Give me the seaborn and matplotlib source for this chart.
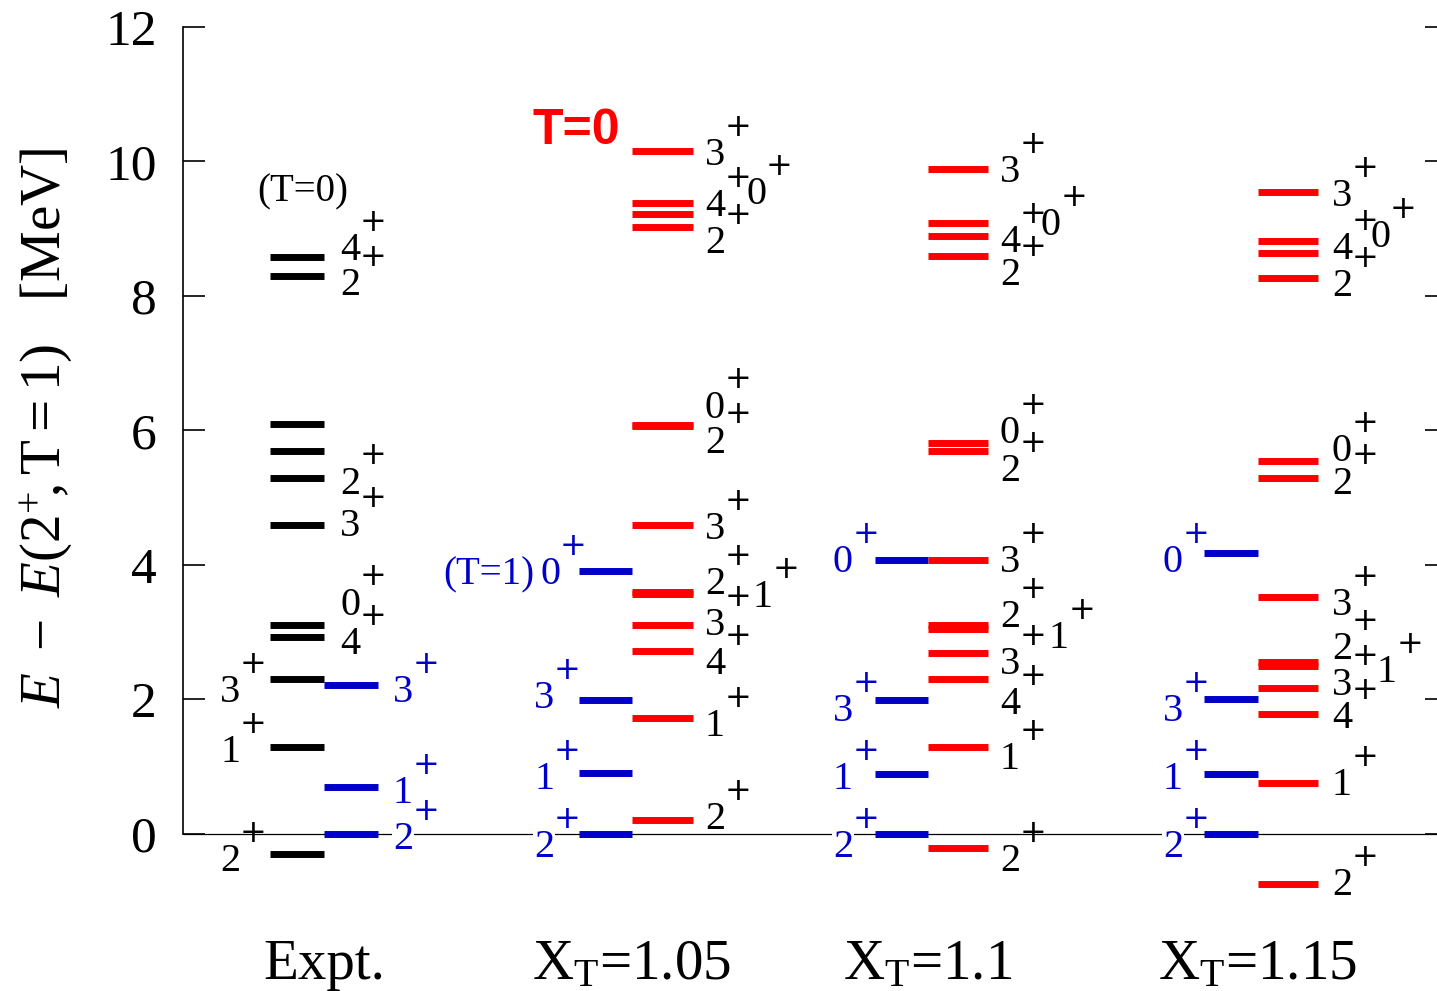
import numpy as np
import pandas as pd
import matplotlib
matplotlib.use("Agg")
import matplotlib.pyplot as plt
import seaborn as sns

# ---------------- data ----------------
categories = ["Expt.", r"X$_{\mathrm{T}}$=1.05", r"X$_{\mathrm{T}}$=1.1", r"X$_{\mathrm{T}}$=1.15"]

# experimental levels (MeV, relative to 2+ T=1)
expt_T0_E = [8.58, 8.29, 6.09, 5.70, 5.29, 4.60, 3.11, 2.93, 2.30, 1.29, -0.30]
expt_T1_E = [2.21, 0.70, 0.00]

# X_T = 1.05
x105_T1_E = [3.91, 1.99, 0.91, 0.00]
x105_T0_E = [10.16, 9.38, 9.22, 9.02, 6.08, 6.06, 4.60, 3.60, 3.56, 3.11, 2.72, 1.73, 0.21]

# X_T = 1.1
x110_T1_E = [4.08, 1.99, 0.89, 0.00]
x110_T0_E = [9.89, 9.09, 8.89, 8.59, 5.81, 5.70, 4.08, 3.11, 3.05, 2.69, 2.30, 1.29, -0.21]

# X_T = 1.15
x115_T1_E = [4.18, 2.01, 0.89, 0.00]
x115_T0_E = [9.54, 8.82, 8.64, 8.27, 5.54, 5.29, 3.52, 2.56, 2.50, 2.17, 1.78, 0.76, -0.75]

yticks = [0, 2, 4, 6, 8, 10, 12]

# ---------------- layout ----------------
def px(p):
    return (p - 183) / 100.0

col_centers = [px(324), px(632), px(928), px(1258)]

# (energies, x-start, x-end, kind)
series = [
    (expt_T0_E, px(270), px(324), "expt"),
    (expt_T1_E, px(324), px(378), "T1"),
    (x105_T1_E, px(579), px(632), "T1"),
    (x105_T0_E, px(632), px(693), "T0"),
    (x110_T1_E, px(875), px(928), "T1"),
    (x110_T0_E, px(928), px(988), "T0"),
    (x115_T1_E, px(1204), px(1258), "T1"),
    (x115_T0_E, px(1258), px(1318), "T0"),
]

BLUE = "#0000C8"
RED = "#FF0000"
palette = {"expt": "black", "T1": BLUE, "T0": RED}

# spin labels: (J, x-center of digit in px, y-center in MeV)
lab_black = [
    # Expt (right of bars)
    ("4", 350, 8.74), ("2", 350, 8.22), ("2", 350, 5.27), ("3", 350, 4.64),
    ("0", 350, 3.47), ("4", 350, 2.88),
    # Expt (left of bars)
    ("3", 230, 2.17), ("1", 230, 1.27), ("2", 230, -0.35),
    # X_T=1.05
    ("3", 715, 10.16), ("4", 715, 9.39), ("0", 756, 9.58), ("2", 715, 8.84),
    ("0", 715, 6.40), ("2", 715, 5.88), ("3", 715, 4.59), ("2", 715, 3.77),
    ("1", 763, 3.58), ("3", 715, 3.17), ("4", 715, 2.58), ("1", 715, 1.66),
    ("2", 715, 0.28),
    # X_T=1.1
    ("3", 1010, 9.90), ("4", 1010, 8.86), ("0", 1051, 9.11), ("2", 1010, 8.37),
    ("0", 1010, 6.02), ("2", 1010, 5.46), ("3", 1010, 4.10), ("2", 1010, 3.28),
    ("1", 1059, 2.97), ("3", 1010, 2.58), ("4", 1010, 1.99), ("1", 1010, 1.17),
    ("2", 1010, -0.35),
    # X_T=1.15
    ("3", 1342, 9.54), ("4", 1342, 8.76), ("0", 1380, 8.94), ("2", 1342, 8.21),
    ("0", 1342, 5.75), ("2", 1342, 5.27), ("3", 1342, 3.46), ("2", 1342, 2.81),
    ("1", 1387, 2.47), ("3", 1342, 2.28), ("4", 1342, 1.78), ("1", 1342, 0.78),
    ("2", 1342, -0.70),
]
lab_blue = [
    ("3", 403, 2.17), ("1", 403, 0.66), ("2", 403, -0.02),
    ("0", 550, 3.92), ("3", 544, 2.08), ("1", 544, 0.87), ("2", 544, -0.14),
    ("0", 843, 4.10), ("3", 843, 1.89), ("1", 843, 0.87), ("2", 843, -0.14),
    ("0", 1173, 4.10), ("3", 1173, 1.89), ("1", 1173, 0.87), ("2", 1173, -0.14),
]

# ---------------- build long table ----------------
rows = []
lid = 0
for energies, x0, x1, kind in series:
    for e in energies:
        rows.append({"x": x0, "E": e, "id": lid, "kind": kind})
        rows.append({"x": x1, "E": e, "id": lid, "kind": kind})
        lid += 1
df = pd.DataFrame(rows)

# ---------------- style ----------------
sns.set_theme(style="white")
plt.rcParams["font.family"] = ["Liberation Serif", "DejaVu Serif"]
plt.rcParams["mathtext.fontset"] = "custom"
plt.rcParams["mathtext.rm"] = "Liberation Serif"
plt.rcParams["mathtext.it"] = "Liberation Serif:italic"
plt.rcParams["mathtext.bf"] = "Liberation Serif:bold"
plt.rcParams["lines.solid_capstyle"] = "butt"

W, H = 1437, 991
fig = plt.figure(figsize=(W / 100, H / 100), dpi=100)
ax = fig.add_axes([183 / W, 1 - 928 / H, 1264 / W, 901 / H])

ax.axhline(0, color="black", lw=0.9, zorder=0.5)

sns.lineplot(data=df, x="x", y="E", units="id", estimator=None, hue="kind",
             palette=palette, sort=False, legend=False, linewidth=5.0, ax=ax,
             zorder=2)

ax.set_xlim(0, 12.64)
ax.set_ylim(-1.4, 12)

# spines / ticks
for s in ["top", "right", "bottom"]:
    ax.spines[s].set_visible(False)
ax.spines["left"].set_bounds(0, 12)
ax.spines["left"].set_color("black")
ax.spines["left"].set_linewidth(1.2)

ax.set_yticks(yticks)
ax.set_yticklabels([str(v) for v in yticks])
ax.tick_params(axis="y", which="both", left=True, right=True, direction="in",
               length=16, width=1.2, colors="black", labelsize=37, pad=19)
ax.set_xticks(col_centers)
ax.set_xticklabels(categories)
ax.tick_params(axis="x", length=0, labelsize=41, pad=8, colors="black")

ax.set_xlabel("")
ax.set_ylabel(r"$E\ -\ E(2^{+}\!,\mathrm{T{=}1})$   [MeV]", fontsize=41, color="black",
              rotation=90, ha="center", va="center")
ax.yaxis.set_label_coords((46 - 183) / 1264, (928 - 428) / 901)

# spin labels
DIG = 29
PLUS = 23
def spin_label(j, xp, y, color, box):
    kw = dict(color=color, fontsize=DIG, ha="center", va="center_baseline", zorder=4)
    if box:
        kw["bbox"] = dict(facecolor="white", edgecolor="none", pad=0.5)
    ax.annotate("+", xy=(px(xp), y), xytext=(16.5, 17), textcoords="offset points",
                color=color, fontsize=PLUS, family="DejaVu Sans",
                ha="center", va="center", zorder=3)
    ax.annotate(j, xy=(px(xp), y), **kw)

for j, xp, y in lab_black:
    spin_label(j, xp, y, "black", False)
for j, xp, y in lab_blue:
    spin_label(j, xp, y, BLUE, True)

ax.text(px(303), 9.62, "(T=0)", color="black", fontsize=28, ha="center", va="center_baseline")
ax.text(px(534), 3.92, "(T=1)", color=BLUE, fontsize=28, ha="right", va="center_baseline")
ax.text(px(576), 10.53, "T=0", color=RED, fontsize=36, fontweight="bold",
        family="Liberation Sans", ha="center", va="center_baseline")

fig.savefig("out.png", dpi=100)
